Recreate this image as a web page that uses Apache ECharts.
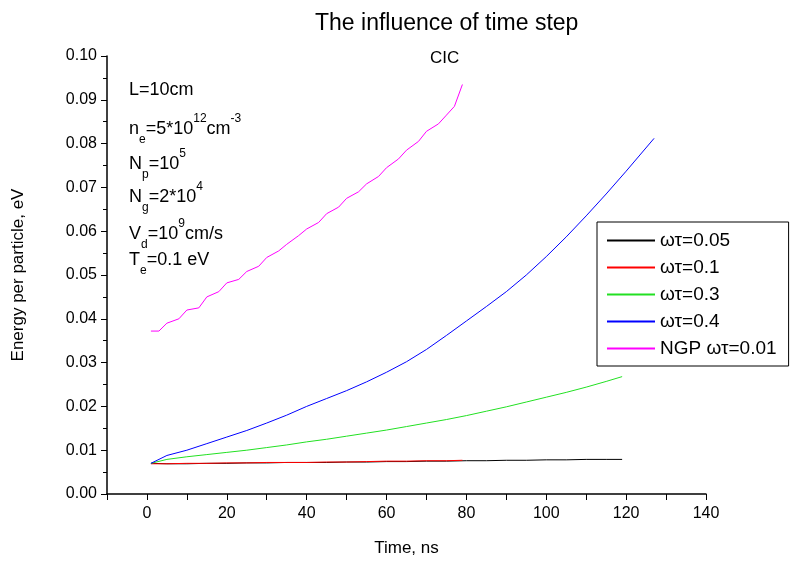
<!DOCTYPE html>
<html><head><meta charset="utf-8">
<script src="https://cdn.jsdelivr.net/npm/echarts@6/dist/echarts.min.js"></script>
<style>html,body{margin:0;padding:0;background:#fff}#c{width:793px;height:562px}</style>
</head><body><div id="c"></div>
<script>
const xBlack = [1,5,10,15,20,25,30,35,40,45,50,55,60,65,70,75,80,85,90,95,100,105,110,115,119];
const yBlack = [0.0070,0.0069,0.0069,0.0070,0.0070,0.0071,0.0071,0.0072,0.0072,0.0072,0.0073,0.0073,0.0074,0.0074,0.0075,0.0075,0.0076,0.0076,0.0077,0.0077,0.0078,0.0078,0.0079,0.0079,0.0079];
const xRed = [1,5,10,15,20,25,30,35,40,45,50,55,60,65,70,75,79];
const yRed = [0.0069,0.0069,0.0070,0.0070,0.0071,0.0071,0.0072,0.0072,0.0072,0.0073,0.0073,0.0074,0.0075,0.0075,0.0076,0.0076,0.0077];
const xGreen = [1,5,10,15,20,25,30,35,40,45,50,55,60,65,70,75,80,85,90,95,100,105,110,115,119];
const yGreen = [0.0070,0.0079,0.0085,0.0090,0.0095,0.0100,0.0106,0.0112,0.0119,0.0125,0.0132,0.0139,0.0146,0.0154,0.0162,0.0170,0.0179,0.0189,0.0199,0.0210,0.0221,0.0232,0.0244,0.0257,0.0268];
const xBlue = [1,5,10,15,20,25,30,35,40,45,50,55,60,65,70,75,80,85,90,95,100,105,110,115,120,127];
const yBlue = [0.0070,0.0088,0.0100,0.0115,0.0130,0.0145,0.0162,0.0180,0.0200,0.0218,0.0236,0.0256,0.0278,0.0302,0.0330,0.0362,0.0395,0.0428,0.0462,0.0500,0.0542,0.0587,0.0635,0.0685,0.0737,0.0812];
const xPink = [1,3,5,8,10,13,15,18,20,23,25,28,30,33,35,38,40,43,45,48,50,53,55,58,60,63,65,68,70,73,75,77,79];
const yPink = [0.0372,0.0372,0.0390,0.0400,0.0420,0.0425,0.0450,0.0462,0.0482,0.0490,0.0508,0.0520,0.0540,0.0555,0.0570,0.0590,0.0605,0.0620,0.0640,0.0655,0.0675,0.0690,0.0708,0.0725,0.0745,0.0765,0.0785,0.0805,0.0828,0.0845,0.0865,0.0885,0.0935];
const xTicks = [0,20,40,60,80,100,120,140];
const pairs=(xs,ys)=>xs.map((x,i)=>[x,ys[i]]);
const ch = echarts.init(document.getElementById('c'));
const F='Liberation Sans, Arial, sans-serif';
const mk=(name,xs,ys,color)=>({name,type:'line',data:pairs(xs,ys),showSymbol:false,smooth:false,lineStyle:{color,width:1},itemStyle:{color},animation:false});
const txt=(y,rich)=>({type:'text',left:129,top:y,style:{rich:{n:{fontSize:18,fontFamily:F,fill:'#000'},s:{fontSize:12,fontFamily:F,fill:'#000',verticalAlign:'bottom',padding:[0,0,-8,0]},p:{fontSize:12,fontFamily:F,fill:'#000',verticalAlign:'top',padding:[-7,0,0,0]}},text:rich}});
ch.setOption({
 animation:false,
 title:[{text:'The influence of time step',top:7,textStyle:{fontSize:23,fontWeight:'normal',fontFamily:F,color:'#000'},left:310},
        {text:'CIC',left:425,top:45,textStyle:{fontSize:17,fontWeight:'normal',fontFamily:F,color:'#000'}}],
 grid:{left:107,right:87,top:56,bottom:68},
 xAxis:{type:'value',min:-10,max:140,interval:10,name:'Time, ns',nameLocation:'middle',nameGap:46,
   nameTextStyle:{fontSize:17,fontFamily:F,color:'#000'},
   axisLine:{onZero:false,lineStyle:{color:'#000',width:1.5}},axisTick:{inside:false,length:6,lineStyle:{color:'#000'}},
   axisLabel:{fontSize:16,margin:12,fontFamily:F,color:'#000',formatter:v=>xTicks.includes(v)?String(v):''},splitLine:{show:false}},
 yAxis:{type:'value',min:0,max:0.1,interval:0.01,name:'Energy per particle, eV',nameLocation:'middle',nameGap:80,
   nameTextStyle:{fontSize:17,fontFamily:F,color:'#000'},
   axisLine:{show:true,onZero:false,lineStyle:{color:'#000',width:1.5}},axisTick:{show:true,length:6,lineStyle:{color:'#000'}},
   minorTick:{show:true,splitNumber:2,length:4,lineStyle:{color:'#000'}},
   axisLabel:{fontSize:16,margin:10,fontFamily:F,color:'#000',formatter:v=>v.toFixed(2)},splitLine:{show:false}},
 legend:{orient:'vertical',left:597,top:222,width:193,itemWidth:48,itemHeight:2,itemGap:8,padding:[9,12,8,10],
   borderColor:'#000',borderWidth:1,icon:'rect',textStyle:{fontSize:19,fontFamily:F,color:'#000'},
   data:['ωτ=0.05','ωτ=0.1','ωτ=0.3','ωτ=0.4','NGP ωτ=0.01']},
 graphic:[
   txt(81,'{n|L=10cm}'),
   txt(113,'{n|n}{s|e}{n|=5*10}{p|12}{n|cm}{p|-3}'),
   txt(148,'{n|N}{s|p}{n|=10}{p|5}'),
   txt(181,'{n|N}{s|g}{n|=2*10}{p|4}'),
   txt(218,'{n|V}{s|d}{n|=10}{p|9}{n|cm/s}'),
   txt(251,'{n|T}{s|e}{n|=0.1 eV}')
 ],
 series:[mk('ωτ=0.05',xBlack,yBlack,'#000'),mk('ωτ=0.1',xRed,yRed,'#ff0000'),mk('ωτ=0.3',xGreen,yGreen,'#22e022'),
   mk('ωτ=0.4',xBlue,yBlue,'#0000ff'),mk('NGP ωτ=0.01',xPink,yPink,'#ff00ff')]
});
</script></body></html>
